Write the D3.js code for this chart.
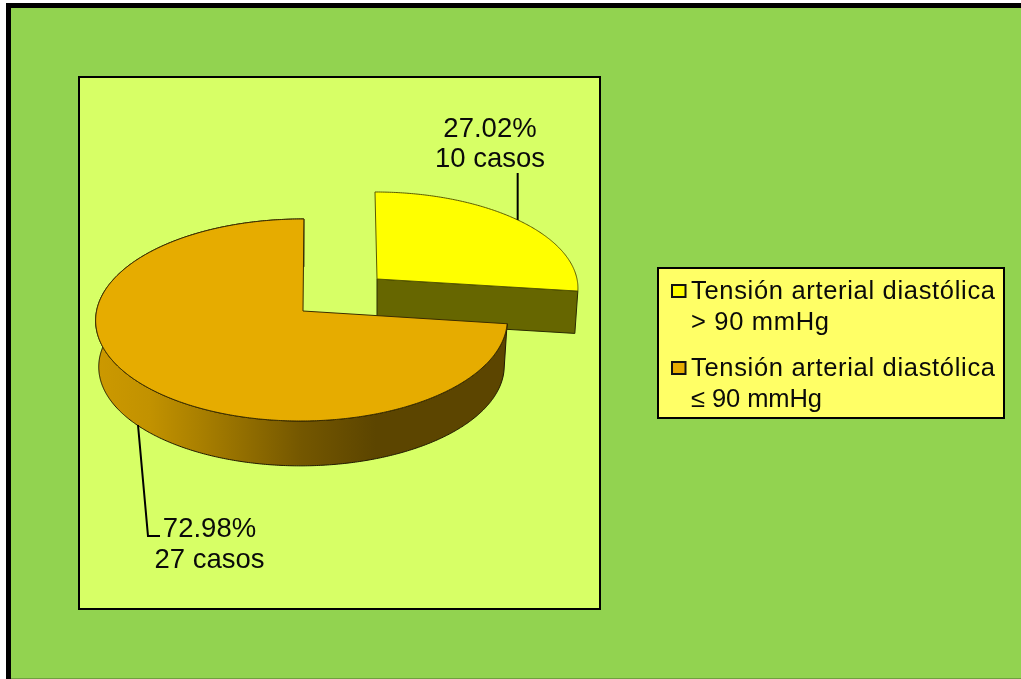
<!DOCTYPE html>
<html><head><meta charset="utf-8">
<script src="https://cdn.jsdelivr.net/npm/d3@7/dist/d3.min.js"></script>
<style>html,body{margin:0;padding:0;background:#fff}svg{display:block;filter:blur(.4px)}text{font-family:"Liberation Sans",Arial,sans-serif;fill:#0a0a0a}</style>
</head><body><div id="c"></div>
<script>
const categories = ["Tensión arterial diastólica > 90 mmHg", "Tensión arterial diastólica ≤ 90 mmHg"];
const percents = [27.02, 72.98];
const cases = [10, 27];
const sliceColors = ["#ffff00", "#e6ac00"];
const legendLines = [["Tensión arterial diastólica", "> 90 mmHg"], ["Tensión arterial diastólica", "≤ 90 mmHg"]];
const legendWidths = [[304, 138], [304, 131]];

const W = 1021, H = 679;
const svg = d3.select("#c").append("svg").attr("width", W).attr("height", H);
svg.append("rect").attr("width", W).attr("height", H).attr("fill", "#fff");
svg.append("rect").attr("x", 8.5).attr("y", 5.5).attr("width", W).attr("height", H).attr("fill", "#92d350").attr("stroke", "#000").attr("stroke-width", 5);
svg.append("rect").attr("x", 11).attr("y", 678).attr("width", W).attr("height", 1).attr("fill", "#6f9f40");
svg.append("rect").attr("x", 79).attr("y", 77).attr("width", 521).attr("height", 532).attr("fill", "#d7ff66").attr("stroke", "#000").attr("stroke-width", 2);

const defs = svg.append("defs");
const grad = defs.append("linearGradient").attr("id", "wall").attr("gradientUnits", "userSpaceOnUse").attr("x1", 96).attr("x2", 507).attr("y1", 0).attr("y2", 0);
[[0, "#cc9900"], [.13, "#c29200"], [.25, "#aa8000"], [.5, "#745700"], [.68, "#5c4500"], [1, "#5c4500"]].forEach(s => grad.append("stop").attr("offset", s[0]).attr("stop-color", s[1]));

const arcs = d3.pie().sort(null).value(d => d)(percents);
// Perspective disc per slice: origin, half-axes, foreshortening, shear, wall depth
const planes = [
  {ax: 377, ay: 279, g: 200, f: 94.5, k: .086, m: 0, s: .023, d: 42.5, b: .985},
  {ax: 303, ay: 311, g: 205, f: 100.2, k: .089, m: .007, s: -.01, d: 46.5, b: .985}
];
function project(p, t, bottom) {
  const sc = bottom ? p.b : 1;
  const w = 1 + p.k * Math.cos(t) + p.m * Math.sin(t);
  const y0 = -p.f * sc * Math.cos(t) / w;
  return [p.ax + p.g * sc * Math.sin(t) / w + p.s * y0, p.ay + (bottom ? p.d : 0) + y0];
}
function rim(p, a0, a1, bottom) {
  const n = Math.max(2, Math.ceil((a1 - a0) / 0.01));
  return d3.range(n + 1).map(i => project(p, a0 + (a1 - a0) * i / n, bottom));
}
const line = d3.line();
const edge = "#1f1800";

// Yellow slice: cut face then top
(function () {
  const p = planes[0], a = arcs[0], end = a.endAngle;
  const apexT = [p.ax, p.ay], apexB = [p.ax, p.ay + p.d], e = project(p, end), eB = project(p, end, true);
  svg.append("path").attr("d", line([apexT, e, eB, apexB]) + "Z").attr("fill", "#666600").attr("stroke", "#2a2a00").attr("stroke-width", 1);
  svg.append("path").attr("d", line([apexT, ...rim(p, a.startAngle, end)]) + "Z").attr("fill", sliceColors[0]).attr("stroke", "#5a5a00").attr("stroke-width", 1);
})();
// Orange slice: outer wall then top
(function () {
  const p = planes[1], a = arcs[1];
  const start = a.startAngle, end = a.endAngle;
  const wallTop = rim(p, start, end), wallBot = rim(p, start, end, true).reverse();
  svg.append("path").attr("d", line([...wallTop, ...wallBot]) + "Z").attr("fill", "url(#wall)").attr("stroke", edge).attr("stroke-width", 1);
  svg.append("path").attr("d", line([[p.ax, p.ay], ...rim(p, start, end)]) + "Z").attr("fill", sliceColors[1]).attr("stroke", "#3a2c00").attr("stroke-width", 1);
})();

// Leaders anchored on the slice rims
const midA = project(planes[0], (arcs[0].startAngle + arcs[0].endAngle) / 2);
svg.append("path").attr("d", line([[midA[0], midA[1]], [midA[0], 173]])).attr("fill", "none").attr("stroke", "#000").attr("stroke-width", 2);
svg.append("path").attr("d", line([[138, 425], [148, 536], [160, 536]])).attr("fill", "none").attr("stroke", "#000").attr("stroke-width", 2);

const fmt = d3.format(".2f");
const labels = [[490, 136.5], [209.5, 537]];
labels.forEach((l, i) => {
  const size = 27.5;
  svg.append("text").attr("x", l[0]).attr("y", l[1]).attr("text-anchor", "middle").attr("font-size", size).text(fmt(percents[i]) + "%");
  svg.append("text").attr("x", l[0]).attr("y", l[1] + 30.5).attr("text-anchor", "middle").attr("font-size", size).text(cases[i] + " casos");
});

// Legend
svg.append("rect").attr("x", 658).attr("y", 268).attr("width", 346).attr("height", 150).attr("fill", "#ffff66").attr("stroke", "#000").attr("stroke-width", 2);
const ly = d3.scalePoint().domain(d3.range(categories.length)).range([298.5, 375.5]);
categories.forEach((c, i) => {
  const y = ly(i);
  svg.append("rect").attr("x", 672).attr("y", y - 13.5).attr("width", 13.5).attr("height", 12).attr("fill", sliceColors[i]).attr("stroke", "#111").attr("stroke-width", 2);
  legendLines[i].forEach((t, j) => {
    svg.append("text").attr("x", 691).attr("y", y + j * 31).attr("font-size", 25.5)
      .attr("textLength", legendWidths[i][j]).attr("lengthAdjust", "spacing").text(t);
  });
});
</script></body></html>
